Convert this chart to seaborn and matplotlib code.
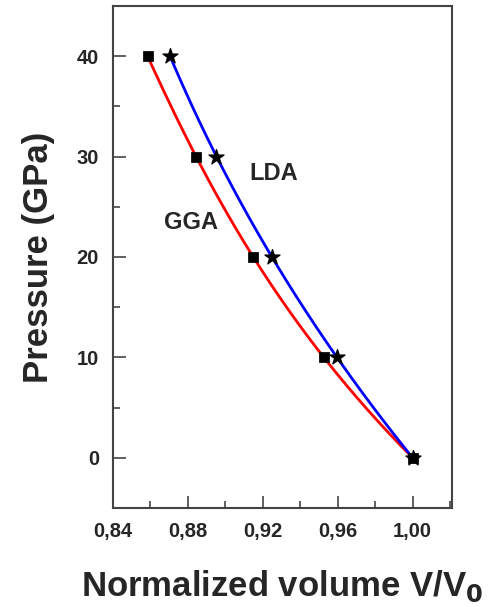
import numpy as np
import pandas as pd
import matplotlib
matplotlib.use("Agg")
import matplotlib.pyplot as plt
from matplotlib.ticker import MultipleLocator, FuncFormatter
import seaborn as sns

# Equation-of-state data: pressure vs normalized volume
pressure = [0, 10, 20, 30, 40]
vol_gga = [1.000, 0.9525, 0.9150, 0.8843, 0.8585]
vol_lda = [1.000, 0.9595, 0.9250, 0.8952, 0.8705]

sns.set_style("ticks")
plt.rcParams["font.family"] = ["Liberation Sans", "DejaVu Sans"]
plt.rcParams["font.weight"] = "bold"
plt.rcParams["mathtext.default"] = "bf"

fig = plt.figure(figsize=(5.03, 6.07), dpi=100)
ax = fig.add_axes([113 / 503, (607 - 508) / 607, (452 - 113) / 503, (508 - 6) / 607])

df_gga = pd.DataFrame({"V": vol_gga, "P": pressure})
df_lda = pd.DataFrame({"V": vol_lda, "P": pressure})

# smooth fitted curves through each data set
def fit_curve(df):
    coef = np.polyfit(df["P"], df["V"], 3)
    p = np.linspace(min(pressure), max(pressure), 200)
    return pd.DataFrame({"V": np.polyval(coef, p), "P": p})

sns.lineplot(data=fit_curve(df_gga), x="V", y="P", sort=False, color="#ff0000", lw=2, ax=ax)
sns.lineplot(data=fit_curve(df_lda), x="V", y="P", sort=False, color="#0000ff", lw=2, ax=ax)
sns.scatterplot(data=df_gga, x="V", y="P", marker="s", s=45, color="black", edgecolor="black", ax=ax, zorder=3)
sns.scatterplot(data=df_lda, x="V", y="P", marker="*", s=130, color="black", edgecolor="black", ax=ax, zorder=3)

ax.set_xlim(0.84, 1.021)
ax.set_ylim(-5, 45)
ax.xaxis.set_major_locator(MultipleLocator(0.04))
ax.xaxis.set_minor_locator(MultipleLocator(0.02))
ax.yaxis.set_major_locator(MultipleLocator(10))
ax.yaxis.set_minor_locator(MultipleLocator(5))
ax.xaxis.set_major_formatter(FuncFormatter(lambda v, _: f"{v:.2f}".replace(".", ",")))
ax.tick_params(which="both", direction="in", top=False, right=False, color="#444444", width=1.2)
ax.tick_params(which="major", length=9, labelsize=14.5, pad=10)
ax.tick_params(which="minor", length=5)
for lab in ax.get_xticklabels() + ax.get_yticklabels():
    lab.set_fontweight("bold")
for sp in ax.spines.values():
    sp.set_visible(True)
    sp.set_color("#444444")
    sp.set_linewidth(1.5)

ax.set_xlabel(r"Normalized volume V/V$_\mathbf{0}$", fontsize=25, fontweight="bold", labelpad=20)
ax.set_ylabel("Pressure (GPa)", fontsize=25, fontweight="bold", labelpad=16)

ax.text(0.926, 28.3, "LDA", fontsize=17, fontweight="bold", ha="center", va="center")
ax.text(0.8818, 23.4, "GGA", fontsize=17, fontweight="bold", ha="center", va="center")

fig.savefig("out.png", dpi=100)
